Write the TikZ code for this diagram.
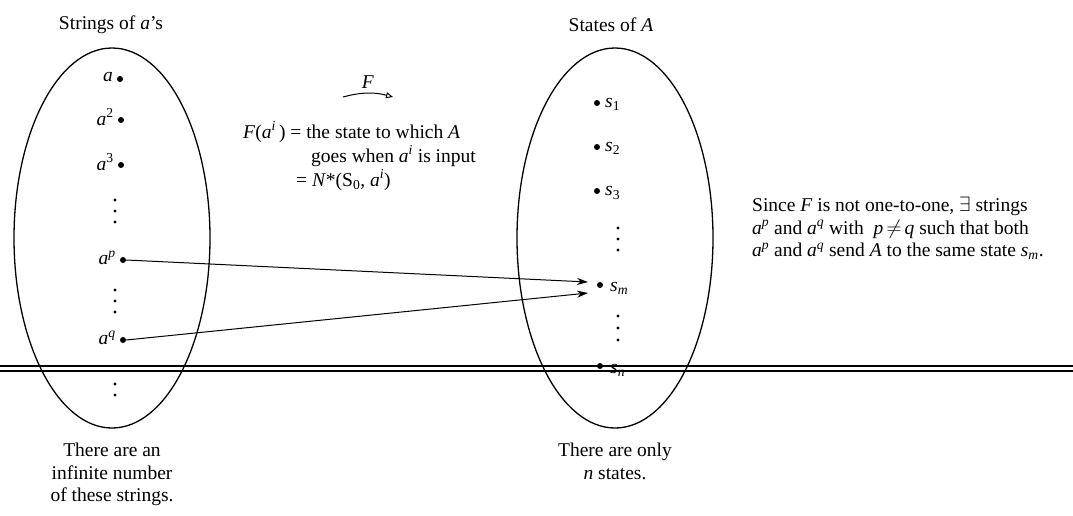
\documentclass[tikz,border=0pt]{standalone}
\usepackage{fontspec}
\setmainfont{Liberation Serif}
\usetikzlibrary{arrows.meta}
\begin{document}
\begin{tikzpicture}[x=1pt,y=-1pt,
  txt/.style={font=\fontsize{19.5}{22.5}\selectfont, inner sep=0pt},
  bul/.style={circle, fill=black, inner sep=0pt, minimum size=6pt},
  vd/.style={circle, fill=black, inner sep=0pt, minimum size=3.2pt},
  oval/.style={draw, line width=1.3pt},
  conn/.style={line width=1pt, -{Stealth[length=11pt,width=7pt]}},
  rule/.style={line width=1.1pt}]
\useasboundingbox (0,0) rectangle (1073,515);
% headings
\node[txt] (h1) at (111,25) {Strings of \textit{a}'s};
\node[txt] (h2) at (611,25) {States of \textit{A}};
% ellipses
\draw[oval] (112,238) ellipse [x radius=98, y radius=190];
\draw[oval] (615,238) ellipse [x radius=98, y radius=190];
% double rule
\draw[rule] (0,366) -- (1073,366);
\draw[rule] (0,371) -- (1073,371);
% left items
\node[bul] (b1) at (120,79) {};
\node[txt, anchor=east] (l1) at (113,77) {\textit{a}};
\node[bul] (b2) at (121,120) {};
\node[txt, anchor=east] (l2) at (114,117) {\textit{a}\textsuperscript{2}};
\node[bul] (b3) at (121,165) {};
\node[txt, anchor=east] (l3) at (114,162) {\textit{a}\textsuperscript{3}};
\foreach \y [count=\i] in {200,211,222} \node[vd] (ld1\i) at (115,\y) {};
\node[bul] (bp) at (123,260) {};
\node[txt, anchor=east] (lp) at (116,258) {\textit{a}\textsuperscript{\textit{p}}};
\foreach \y [count=\i] in {290,301,312} \node[vd] (ld2\i) at (115,\y) {};
\node[bul] (bq) at (123,340) {};
\node[txt, anchor=east] (lq) at (116,338) {\textit{a}\textsuperscript{\textit{q}}};
\foreach \y [count=\i] in {384,395} \node[vd] (ld3\i) at (115,\y) {};
% right items
\node[bul] (s1) at (597,103) {};
\node[txt, anchor=west] (t1) at (605,104) {\textit{s}\textsubscript{1}};
\node[bul] (s2) at (597,147) {};
\node[txt, anchor=west] (t2) at (605,148) {\textit{s}\textsubscript{2}};
\node[bul] (s3) at (597,191) {};
\node[txt, anchor=west] (t3) at (605,193) {\textit{s}\textsubscript{3}};
\foreach \y [count=\i] in {228,239,250} \node[vd] (rd1\i) at (618,\y) {};
\node[bul] (sm) at (600,285) {};
\node[txt, anchor=west] (tm) at (610,288) {\textit{s}\textsubscript{\textit{m}}};
\foreach \y [count=\i] in {316,328,340} \node[vd] (rd2\i) at (618,\y) {};
\node[bul] (sn) at (600,366) {};
\node[txt, anchor=west] (tn) at (610,370) {\textit{s}\textsubscript{\textit{n}}};
% connectors
\coordinate (e1) at (588,282);
\coordinate (e2) at (588,293);
\draw[conn] (bp.east) -- (e1);
\draw[conn] (bq.east) -- (e2);
% F arrow
\coordinate (fa) at (343,97);
\coordinate (fb) at (393,97);
\draw[line width=1pt, -{Triangle[open, length=7pt, width=6pt]}] (fa) to[bend left=15] (fb);
\node[txt] (F) at (368,82) {\textit{F}};
% definition text
\node[txt, anchor=base west] (d1) at (243,138) {\textit{F}(\textit{a}\textsuperscript{\textit{i}}\,) = the state to which \textit{A}};
\node[txt, anchor=base west] (d2) at (311,162) {goes when \textit{a}\textsuperscript{\textit{i}} is input};
\node[txt, anchor=base west] (d3) at (296,186) {= \textit{N}*(S\textsubscript{0}, \textit{a}\textsuperscript{\textit{i}})};
% side text
\node[txt, anchor=north west, align=left] (side) at (752,197) {Since \textit{F} is not one-to-one, $\exists$ strings\\
\textit{a}\textsuperscript{\textit{p}} and \textit{a}\textsuperscript{\textit{q}} with\ \ \textit{p}\,$\neq$\,\textit{q} such that both\\
\textit{a}\textsuperscript{\textit{p}} and \textit{a}\textsuperscript{\textit{q}} send \textit{A} to the same state \textit{s}\textsubscript{\textit{m}}.};
% bottom texts
\node[txt, anchor=north, align=center] (bl) at (112,443) {There are an\\infinite number\\of these strings.};
\node[txt, anchor=north, align=center] (br) at (615,443) {There are only\\\textit{n} states.};
\end{tikzpicture}
\end{document}
